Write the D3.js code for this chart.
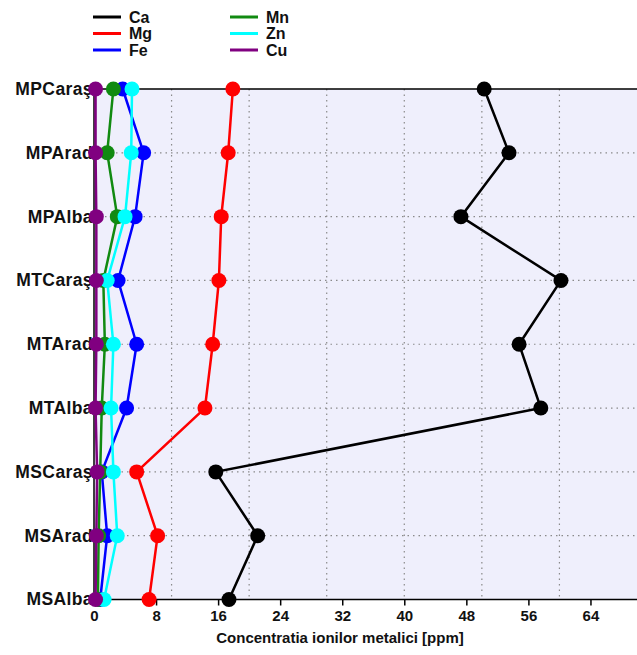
<!DOCTYPE html>
<html>
<head>
<meta charset="utf-8">
<script src="https://cdn.jsdelivr.net/npm/d3@7"></script>
<style>
	body { margin: 0; background: #fff; }
	svg { display: block; font-family: 'Liberation Sans', Arial, sans-serif; font-weight: bold; }
	.grid line { stroke: #8a8a8a; stroke-width: 1.2; stroke-dasharray: 1.5 4; }
</style>
</head>
<body>
<div id="chart"></div>
<script>
// sample sites, top to bottom
const sites = ['MPCaraş', 'MPArad', 'MPAlba', 'MTCaraş', 'MTArad', 'MTAlba', 'MSCaraş', 'MSArad', 'MSAlba']

// concentrations in ppm
const ca = [50.3, 53.5, 47.3, 60.2, 54.8, 57.6, 15.7, 21.1, 17.4]
const mg = [17.9, 17.3, 16.4, 16.1, 15.3, 14.3, 5.5, 8.2, 7.1]
const fe = [3.7, 6.4, 5.3, 3.1, 5.5, 4.2, 1.0, 1.7, 0.8]
const mn = [2.5, 1.7, 3.0, 1.2, 1.4, 1.0, 0.8, 0.6, 0.5]
const zn = [4.9, 4.8, 4.0, 1.7, 2.5, 2.2, 2.5, 3.0, 1.3]
const cu = [0.2, 0.2, 0.3, 0.3, 0.3, 0.2, 0.4, 0.3, 0.2]

const xTicks = [0, 8, 16, 24, 32, 40, 48, 56, 64]
const xGrid = [10, 20, 30, 40, 50, 60]

const series = [
	{ name: 'Ca', values: ca, color: '#000000' },
	{ name: 'Mg', values: mg, color: '#ff0000' },
	{ name: 'Fe', values: fe, color: '#0000ff' },
	{ name: 'Mn', values: mn, color: '#118a11' },
	{ name: 'Zn', values: zn, color: '#00ffff' },
	{ name: 'Cu', values: cu, color: '#800080' },
]

const width = 637
const height = 655
const margin = { top: 89, right: 0, bottom: 55, left: 94 }

const svg = d3.select('#chart')
	.append('svg')
	.attr('width', width)
	.attr('height', height)

const x = d3.scaleLinear()
	.domain([0, 70])
	.range([margin.left, width - margin.right])

const y = d3.scalePoint()
	.domain(sites)
	.range([margin.top, height - margin.bottom - 0.5])

// plot background
svg.append('rect')
	.attr('x', margin.left)
	.attr('y', margin.top)
	.attr('width', x(70) - margin.left)
	.attr('height', y(sites[sites.length - 1]) - margin.top)
	.attr('fill', '#efeffc')

// dotted grid
const grid = svg.append('g').attr('class', 'grid')
grid.selectAll('line.v')
	.data(xGrid)
	.enter()
	.append('line')
	.attr('x1', d => x(d))
	.attr('x2', d => x(d))
	.attr('y1', margin.top)
	.attr('y2', y(sites[sites.length - 1]))
grid.selectAll('line.h')
	.data(sites.slice(1, -1))
	.enter()
	.append('line')
	.attr('x1', margin.left)
	.attr('x2', x(70))
	.attr('y1', d => y(d))
	.attr('y2', d => y(d))

// frame: top, left and bottom
const yBottom = y(sites[sites.length - 1])
svg.append('path')
	.attr('d', `M${x(70)},${margin.top}H${margin.left}V${yBottom}H${x(70)}`)
	.attr('fill', 'none')
	.attr('stroke', '#000')
	.attr('stroke-width', 1.5)

// x axis
const xAxis = svg.append('g')
	.attr('transform', `translate(0,${yBottom})`)
	.call(d3.axisBottom(x).tickValues(xTicks).tickSize(6).tickSizeOuter(0))
xAxis.select('.domain').remove()
xAxis.selectAll('line').attr('stroke', '#000').attr('stroke-width', 1.5)
xAxis.selectAll('text')
	.attr('y', 17)
	.attr('dy', '0.3em')
	.attr('fill', '#111')
	.style('font-size', '15px')
	.style('font-weight', 'bold')

svg.append('text')
	.attr('x', 340)
	.attr('y', 643)
	.attr('text-anchor', 'middle')
	.attr('fill', '#111')
	.style('font-size', '15px')
	.text('Concentratia ionilor metalici [ppm]')

// site labels
svg.selectAll('text.site')
	.data(sites)
	.enter()
	.append('text')
	.attr('class', 'site')
	.attr('x', 93)
	.attr('y', d => y(d))
	.attr('dy', '0.34em')
	.attr('text-anchor', 'end')
	.attr('fill', '#111')
	.style('font-size', '17.5px')
	.style('letter-spacing', '0.4px')
	.text(d => d)

// lines + markers
const line = d3.line()
	.x(d => x(d.v))
	.y(d => y(d.site))

series.forEach(s => {
	const pts = s.values.map((v, i) => ({ v, site: sites[i] }))
	const g = svg.append('g')
	g.append('path')
		.datum(pts)
		.attr('d', line)
		.attr('fill', 'none')
		.attr('stroke', s.color)
		.attr('stroke-width', 2.5)
	g.selectAll('circle')
		.data(pts)
		.enter()
		.append('circle')
		.attr('cx', d => x(d.v))
		.attr('cy', d => y(d.site))
		.attr('r', 7.5)
		.attr('fill', s.color)
})

// legend, two columns of three
const legend = svg.append('g')
series.forEach((s, i) => {
	const col = Math.floor(i / 3)
	const row = i % 3
	const lx = 93 + col * 137
	const ly = 17 + row * 16.5
	legend.append('line')
		.attr('x1', lx)
		.attr('x2', lx + 28)
		.attr('y1', ly)
		.attr('y2', ly)
		.attr('stroke', s.color)
		.attr('stroke-width', 3)
	legend.append('text')
		.attr('x', lx + 36)
		.attr('y', ly)
		.attr('dy', '0.36em')
		.attr('fill', '#111')
		.style('font-size', '16px')
		.text(s.name)
})
</script>
</body>
</html>
